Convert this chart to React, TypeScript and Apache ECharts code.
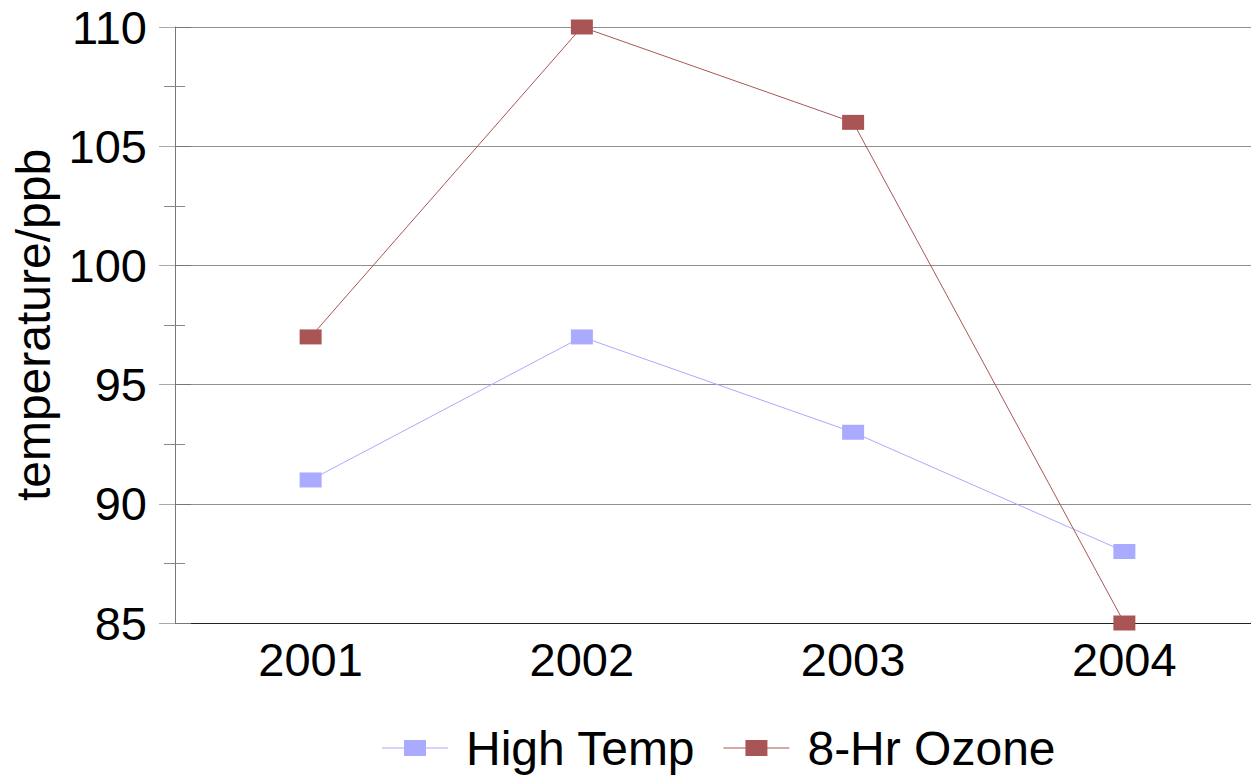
import React, { useEffect, useRef } from "react";
import * as echarts from "echarts";

const years = ["2001", "2002", "2003", "2004"];
const highTemp = [91, 97, 93, 88];
const ozone = [97, 110, 106, 85];
const seriesNames = ["High Temp", "8-Hr Ozone"];
const colors = ["#aaaaff", "#aa5555"];

const legendIcon = "path://M0,7.5 L66,7.5 L66,8.5 L0,8.5 Z M22,0 L44,0 L44,16 L22,16 Z";

export default function App() {
  const ref = useRef<HTMLDivElement>(null);
  useEffect(() => {
    document.body.style.margin = "0";
    const chart = echarts.init(ref.current!, null, { renderer: "svg" });
    const font = "'Liberation Sans', Arial, sans-serif";
    chart.setOption({
      animation: false,
      textStyle: { fontFamily: font },
      grid: { left: 175, right: 0, top: 27, bottom: 159, containLabel: false },
      legend: {
        left: 382,
        top: 724,
        padding: 0,
        itemWidth: 66,
        itemHeight: 16,
        itemGap: 28,
        textStyle: { fontSize: 48, lineHeight: 48, color: "#000", fontFamily: font, padding: [0, 0, 0, 13] },
        data: [
          { name: seriesNames[0], icon: legendIcon, itemStyle: { color: colors[0] } },
          { name: seriesNames[1], icon: legendIcon, itemStyle: { color: colors[1] } },
        ],
      },
      xAxis: [
        {
          type: "category",
          data: years,
          boundaryGap: true,
          axisLine: { lineStyle: { color: "#222", width: 1 } },
          axisTick: { alignWithLabel: true, length: 10, lineStyle: { color: "#bbb" } },
          axisLabel: { fontSize: 47, color: "#000", margin: 13, fontFamily: font },
          splitLine: { show: false },
        },
        {
          type: "category",
          data: years,
          position: "bottom",
          boundaryGap: true,
          axisLine: { show: false },
          axisTick: { alignWithLabel: true, inside: true, length: 9, lineStyle: { color: "#bbb" } },
          axisLabel: { show: false },
          splitLine: { show: false },
        },
      ],
      yAxis: [
        {
          type: "value",
          min: 85,
          max: 110,
          interval: 5,
          name: "temperature/ppb",
          nameLocation: "middle",
          nameGap: 117,
          nameTextStyle: { fontSize: 48, color: "#000", fontFamily: font },
          axisLine: { show: true, lineStyle: { color: "#777" } },
          axisTick: { show: true, length: 16, lineStyle: { color: "#aaa" } },
          minorTick: { show: true, splitNumber: 2, length: 11, lineStyle: { color: "#888" } },
          axisLabel: { fontSize: 47, color: "#000", margin: 28, fontFamily: font },
          splitLine: { show: true, lineStyle: { color: "#909090", width: 1 } },
        },
        {
          type: "value",
          min: 85,
          max: 110,
          interval: 5,
          position: "left",
          axisLine: { show: false },
          axisTick: { show: true, inside: true, length: 16, lineStyle: { color: "#777" } },
          minorTick: { show: true, splitNumber: 2, length: 10, lineStyle: { color: "#888" } },
          axisLabel: { show: false },
          splitLine: { show: false },
        },
      ],
      series: [
        {
          name: seriesNames[0],
          type: "line",
          data: highTemp,
          symbol: "rect",
          symbolSize: [22, 15],
          itemStyle: { color: colors[0] },
          lineStyle: { color: colors[0], width: 1 },
        },
        {
          name: seriesNames[1],
          type: "line",
          data: ozone,
          symbol: "rect",
          symbolSize: [22, 15],
          itemStyle: { color: colors[1] },
          lineStyle: { color: colors[1], width: 1 },
        },
      ],
    });
    return () => chart.dispose();
  }, []);
  return (
    <div style={{ width: 1251, height: 782, overflow: "hidden", position: "relative" }}>
      <div ref={ref} style={{ width: 1260, height: 782 }} />
    </div>
  );
}
